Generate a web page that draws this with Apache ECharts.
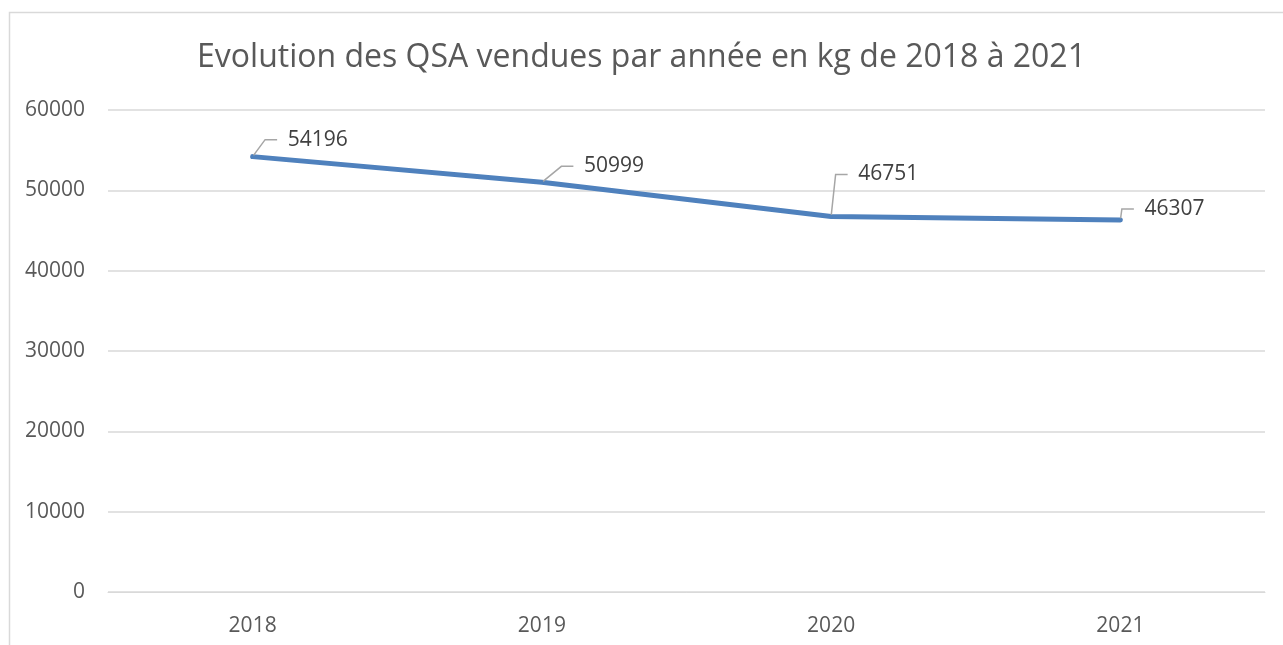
<!DOCTYPE html>
<html>
<head>
<meta charset="utf-8">
<script src="https://cdn.jsdelivr.net/npm/echarts@6/dist/echarts.min.js"></script>
<style>
  html, body { margin: 0; padding: 0; background: #fff; }
  #main { width: 1283px; height: 645px; }
</style>
</head>
<body>
<div id="main"></div>
<script>
var years = ['2018', '2019', '2020', '2021'];
var qsaValues = [54196, 50999, 46751, 46307];
var titleText = 'Evolution des QSA vendues par année en kg de 2018 à 2021';

// label offsets (leader lines), Excel style
var labelShift = [[23, -17], [30, -16], [15, -42], [12, -11]];

var chart = echarts.init(document.getElementById('main'));
var font = 'Open Sans';

option = {
  animation: false,
  title: {
    text: titleText,
    left: 'center',
    top: 37,
    textStyle: { fontFamily: font, fontSize: 32, fontWeight: 'normal', color: '#595959' }
  },
  graphic: [{
    type: 'rect',
    left: 7, top: 10,
    shape: { width: 1300, height: 700 },
    style: { fill: 'none', stroke: '#d9d9d9', lineWidth: 1.5 },
    silent: true
  }],
  grid: { left: 108, right: 18, top: 110, bottom: 53 },
  xAxis: {
    type: 'category',
    data: years,
    boundaryGap: true,
    axisLine: { lineStyle: { color: '#d9d9d9', width: 1 } },
    axisTick: { show: false },
    axisLabel: { fontFamily: font, fontSize: 21, color: '#595959', margin: 24 }
  },
  yAxis: {
    type: 'value',
    min: 0, max: 60000, interval: 10000,
    axisLine: { show: false },
    axisTick: { show: false },
    splitLine: { lineStyle: { color: '#d9d9d9', width: 1.5 } },
    axisLabel: {
      fontFamily: font, fontSize: 21, color: '#595959', margin: 23,
      formatter: function (v) { return String(v); }
    }
  },
  series: [{
    type: 'line',
    data: qsaValues,
    symbol: 'circle',
    symbolSize: 3,
    itemStyle: { color: '#4f81bd' },
    lineStyle: { color: '#4f81bd', width: 5, cap: 'round', join: 'round' },
    label: {
      show: true,
      position: 'right',
      distance: 0,
      formatter: '\u2002{c}',
      fontFamily: font, fontSize: 21, color: '#404040'
    },
    labelLine: { show: true, length2: 12, lineStyle: { color: '#a6a6a6', width: 1.5 } },
    labelLayout: function (p) {
      var s = labelShift[p.dataIndex];
      return { dx: s[0], dy: s[1] };
    }
  }]
};
chart.setOption(option);
</script>
</body>
</html>
